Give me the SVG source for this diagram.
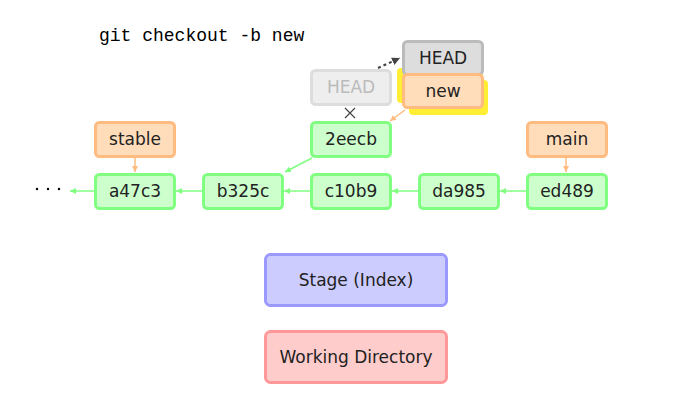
<svg xmlns="http://www.w3.org/2000/svg" width="684" height="416" viewBox="0 0 684 416">
<style>
text{font-family:"DejaVu Sans","Liberation Sans",sans-serif;font-size:17px;text-anchor:middle;dominant-baseline:central;fill:#222}
.c rect{fill:#ccffcc;stroke:#80ff80;stroke-width:3}
.b rect{fill:#ffddbb;stroke:#ffbb80;stroke-width:3}
.g{stroke:#80ff80;stroke-width:1.5;fill:none}
.o{stroke:#ffbb80;stroke-width:1.5;fill:none}
</style>
<defs>
<marker id="ag" markerWidth="8" markerHeight="8" refX="6" refY="4" orient="auto" markerUnits="userSpaceOnUse"><path d="M0,1 L6,4 L0,7 Z" fill="#80ff80"/></marker>
<marker id="ao" markerWidth="8" markerHeight="8" refX="6" refY="4" orient="auto" markerUnits="userSpaceOnUse"><path d="M0,1 L6,4 L0,7 Z" fill="#ffbb80"/></marker>
<marker id="ad" markerWidth="10" markerHeight="10" refX="8" refY="5" orient="auto" markerUnits="userSpaceOnUse"><path d="M0,1 L8,5 L0,9 Z" fill="#444"/></marker>
</defs>
<text x="99" y="36" style="font-family:'Liberation Mono',monospace;font-size:18px;text-anchor:start;fill:#000">git checkout -b new</text>
<g id="connectors">
<line class="g" x1="94" y1="191" x2="70" y2="191" marker-end="url(#ag)"/>
<line class="g" x1="202" y1="191" x2="176" y2="191" marker-end="url(#ag)"/>
<line class="g" x1="310" y1="191" x2="284" y2="191" marker-end="url(#ag)"/>
<line class="g" x1="418" y1="191" x2="392" y2="191" marker-end="url(#ag)"/>
<line class="g" x1="526" y1="191" x2="500" y2="191" marker-end="url(#ag)"/>
<line class="g" x1="312" y1="158" x2="285" y2="172" marker-end="url(#ag)"/>
<line class="o" x1="135" y1="157" x2="135" y2="172" marker-end="url(#ao)"/>
<line class="o" x1="566" y1="157" x2="566" y2="172" marker-end="url(#ao)"/>
<line class="o" x1="405" y1="110" x2="390" y2="121" marker-end="url(#ao)"/>
<line x1="378" y1="68" x2="400" y2="58" stroke="#444" stroke-width="2" stroke-dasharray="3,3" marker-end="url(#ad)"/>
<path d="M345,108 L355,118 M355,108 L345,118" stroke="#444" stroke-width="1.2"/>
</g>
<g id="ellipsis" fill="#000"><circle cx="37" cy="189" r="1.2"/><circle cx="48" cy="189" r="1.2"/><circle cx="59" cy="189" r="1.2"/></g>
<g id="a47c3" class="c"><rect x="95.500" y="174.500" width="79" height="34" rx="4"/><text x="135" y="191">a47c3</text></g>
<g id="b325c" class="c"><rect x="203.500" y="174.500" width="79" height="34" rx="4"/><text x="243" y="191">b325c</text></g>
<g id="c10b9" class="c"><rect x="311.500" y="174.500" width="79" height="34" rx="4"/><text x="351" y="191">c10b9</text></g>
<g id="da985" class="c"><rect x="419.500" y="174.500" width="79" height="34" rx="4"/><text x="459" y="191">da985</text></g>
<g id="ed489" class="c"><rect x="527.500" y="174.500" width="79" height="34" rx="4"/><text x="567" y="191">ed489</text></g>
<g id="2eecb" class="c"><rect x="311.500" y="122.500" width="79" height="34" rx="4"/><text x="351" y="139">2eecb</text></g>
<g id="stable" class="b"><rect x="95.500" y="122.500" width="79" height="34" rx="4"/><text x="135" y="139">stable</text></g>
<g id="main" class="b"><rect x="527.500" y="122.500" width="79" height="34" rx="4"/><text x="567" y="139">main</text></g>
<g id="head-old"><rect x="311.500" y="70.500" width="79" height="34" rx="4" fill="#eeeeee" stroke="#dddddd" stroke-width="3"/><text x="351" y="87" style="fill:#bbbbbb">HEAD</text></g>
<g id="highlight"><rect x="397" y="68" width="86" height="35" rx="4" fill="#ffee33"/><rect x="409" y="80" width="79" height="35" rx="4" fill="#ffee33"/></g>
<g id="head"><rect x="403.500" y="41.500" width="79" height="33" rx="4" fill="#dddddd" stroke="#bbbbbb" stroke-width="3"/><text x="443" y="58">HEAD</text></g>
<g id="new" class="b"><rect x="403.500" y="74.500" width="79" height="33" rx="4"/><text x="443" y="91">new</text></g>
<g id="stage"><rect x="265.500" y="254.500" width="181" height="51" rx="5" fill="#ccccff" stroke="#9999ff" stroke-width="3"/><text x="356" y="280">Stage (Index)</text></g>
<g id="workdir"><rect x="265.500" y="331.500" width="181" height="51" rx="5" fill="#ffcccc" stroke="#ff9999" stroke-width="3"/><text x="356" y="357">Working Directory</text></g>
</svg>
